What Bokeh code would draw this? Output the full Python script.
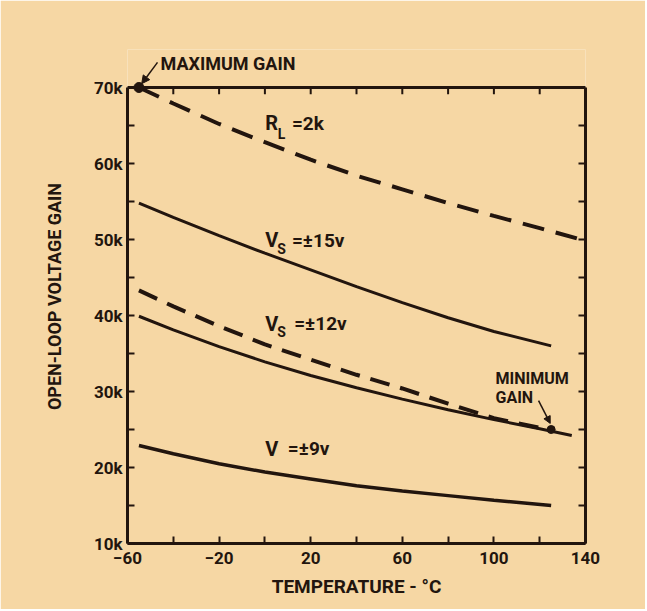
from bokeh.plotting import figure
from bokeh.models import FixedTicker, Label, Arrow, NormalHead, LinearAxis, Range1d, Span
from bokeh.embed import file_html
from bokeh.resources import INLINE

# ---------------- data (gain in thousands, temperature in deg C) ----------------
temps_rl = [-55, -40, -20, 0, 20, 40, 60, 80, 100, 120, 138]
gain_rl_2k = [70.0, 67.9, 65.2, 62.8, 60.5, 58.4, 56.6, 54.8, 53.1, 51.5, 50.0]

temps_15 = [-55, -40, -20, 0, 20, 40, 60, 80, 100, 125]
gain_vs15 = [54.8, 52.9, 50.5, 48.2, 46.0, 43.8, 41.7, 39.7, 37.9, 36.0]

temps_12d = [-55, -40, -20, 0, 20, 40, 60, 80, 100, 125]
gain_vs12_dashed = [43.3, 41.2, 38.6, 36.2, 34.2, 32.2, 30.4, 28.4, 26.5, 24.9]

temps_12s = [-55, -40, -20, 0, 20, 40, 60, 80, 100, 120, 134]
gain_vs12_solid = [39.9, 38.1, 35.9, 33.9, 32.1, 30.5, 29.0, 27.6, 26.3, 25.1, 24.2]

temps_9 = [-55, -40, -20, 0, 20, 40, 60, 80, 100, 125]
gain_v9 = [22.9, 21.8, 20.5, 19.4, 18.5, 17.6, 16.9, 16.3, 15.7, 15.0]

max_gain_point = (-55, 70.0)
min_gain_point = (125, 25.0)

x_tick_values = [-60, -20, 20, 60, 100, 140]
x_minor_values = [-40, 0, 40, 80, 120]
y_tick_values = [10, 20, 30, 40, 50, 60, 70]
y_tick_labels = ["10k", "20k", "30k", "40k", "50k", "60k", "70k"]
y_minor_values = [15, 25, 35, 45, 55, 65]

X_MIN, X_MAX = x_tick_values[0], x_tick_values[-1]
Y_MIN, Y_MAX = y_tick_values[0], y_tick_values[-1]

INK = "#22150e"
PAPER = "#f6d7a4"
FONT = "Roboto"

# frame extends a little above 70k so the "MAXIMUM GAIN" note can sit inside it
p = figure(width=645, height=609, x_range=Range1d(X_MIN, X_MAX), y_range=Range1d(Y_MIN, 75),
           output_backend="svg", toolbar_location=None,
           min_border_left=127, min_border_right=60, min_border_top=49, min_border_bottom=66,
           background_fill_color=PAPER, border_fill_color=PAPER)
p.xgrid.visible = False
p.ygrid.visible = False
p.outline_line_color = None

bottom_axis = p.xaxis[0]
left_axis = p.yaxis[0]
bottom_axis.ticker = FixedTicker(ticks=x_tick_values, minor_ticks=x_minor_values)
left_axis.ticker = FixedTicker(ticks=y_tick_values, minor_ticks=y_minor_values)
left_axis.major_label_overrides = {v: s for v, s in zip(y_tick_values, y_tick_labels)}
left_axis.bounds = (Y_MIN, Y_MAX)
bottom_axis.axis_label = "TEMPERATURE - °C"
left_axis.axis_label = "OPEN-LOOP VOLTAGE GAIN"

right_axis = LinearAxis(ticker=FixedTicker(ticks=y_tick_values, minor_ticks=y_minor_values),
                        major_label_overrides={v: "" for v in y_tick_values},
                        bounds=(Y_MIN, Y_MAX))
p.add_layout(right_axis, "right")

for ax in [bottom_axis, left_axis, right_axis]:
    ax.axis_line_color = INK
    ax.axis_line_width = 3
    ax.major_tick_in = 7
    ax.major_tick_out = 0
    ax.minor_tick_in = 7
    ax.minor_tick_out = 0
    ax.major_tick_line_color = INK
    ax.minor_tick_line_color = INK
    ax.major_tick_line_width = 2
    ax.minor_tick_line_width = 2
    ax.major_label_text_font = FONT
    ax.major_label_text_font_style = "bold"
    ax.major_label_text_font_size = "17px"
    ax.major_label_text_color = INK
    ax.axis_label_text_font = FONT
    ax.axis_label_text_font_style = "bold"
    ax.axis_label_text_color = INK

bottom_axis.major_label_standoff = 8
left_axis.major_label_standoff = 5
bottom_axis.axis_label_text_font_size = "19px"
left_axis.axis_label_text_font_size = "18px"
bottom_axis.axis_label_standoff = 8
left_axis.axis_label_standoff = 26

# top border of the chart box at 70k, with inward ticks
p.add_layout(Span(location=Y_MAX, dimension="width", line_color=INK, line_width=3))
top_ticks = sorted(t for t in x_tick_values + x_minor_values if X_MIN < t < X_MAX)
p.segment(x0=top_ticks, y0=[Y_MAX] * len(top_ticks), x1=top_ticks,
          y1=[Y_MAX - 0.9] * len(top_ticks), line_color=INK, line_width=2)

# ---------------- curves ----------------
p.line(temps_rl, gain_rl_2k, line_color=INK, line_width=4, line_dash="22 12")
p.line(temps_15, gain_vs15, line_color=INK, line_width=3)
p.line(temps_12d, gain_vs12_dashed, line_color=INK, line_width=4, line_dash="20 11")
p.line(temps_12s, gain_vs12_solid, line_color=INK, line_width=3)
p.line(temps_9, gain_v9, line_color=INK, line_width=3.5)

p.scatter([max_gain_point[0]], [max_gain_point[1]], size=10, color=INK)
p.scatter([min_gain_point[0]], [min_gain_point[1]], size=8, color=INK)

# ---------------- annotations ----------------
def lab(x, y, text, size="18px"):
    p.add_layout(Label(x=x, y=y, text=text, text_font=FONT, text_font_style="bold",
                       text_font_size=size, text_color=INK, text_baseline="middle",
                       text_align="left"))

lab(-45.6, 73.2, "MAXIMUM GAIN", "18px")
p.add_layout(Arrow(end=NormalHead(size=8, fill_color=INK, line_color=INK),
                   x_start=-46.9, y_start=73.3, x_end=-53.8, y_end=70.5,
                   line_color=INK, line_width=1.5))

lab(100.7, 31.7, "MINIMUM", "16px")
lab(100.7, 29.2, "GAIN", "16px")
p.add_layout(Arrow(end=NormalHead(size=7, fill_color=INK, line_color=INK),
                   x_start=119.5, y_start=28.8, x_end=124.6, y_end=25.8,
                   line_color=INK, line_width=1.5))

lab(0.2, 65.3, "R", "20px")
lab(5.6, 63.9, "L", "14px")
lab(11.8, 65.3, "=2k", "19px")

lab(0.2, 49.9, "V", "20px")
lab(5.4, 48.7, "S", "14px")
lab(11.8, 49.9, "=±15v", "19px")

lab(0.2, 38.9, "V", "20px")
lab(5.4, 37.8, "S", "14px")
lab(12.8, 38.9, "=±12v", "19px")

lab(0.2, 22.5, "V", "20px")
lab(10.0, 22.5, "=±9v", "19px")

open("out.html", "w").write(file_html(p, INLINE))
